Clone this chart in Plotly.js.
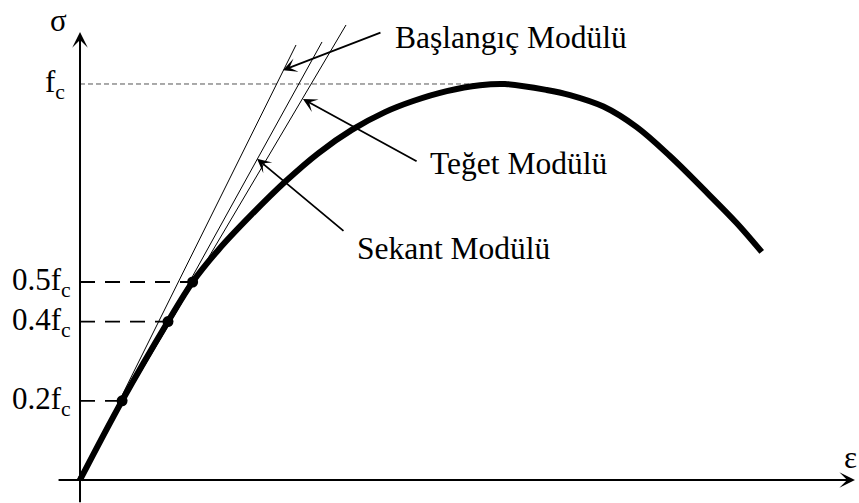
<!DOCTYPE html>
<html>
<head>
<meta charset="utf-8">
<script src="https://cdn.plot.ly/plotly-3.0.1.min.js"></script>
<style>
  html, body { margin: 0; padding: 0; background: #fff; }
  #chart { width: 859px; height: 503px; }
</style>
</head>
<body>
<div id="chart"></div>
<script>
// Stress–strain curve of concrete (strain in ‰, stress as a fraction of fc)
var curveStrain = [0, 0.198, 0.414, 0.53, 0.651, 0.808, 0.965, 1.121, 1.279, 1.435, 1.568, 1.726, 1.882, 2.0, 2.196, 2.306, 2.463, 2.620, 2.776, 2.933, 3.090, 3.208];
var curveStress = [0, 0.2, 0.4, 0.5, 0.581, 0.6705, 0.753, 0.825, 0.884, 0.929, 0.957, 0.982, 0.997, 1.0, 0.985, 0.972, 0.943, 0.891, 0.818, 0.735, 0.649, 0.576];

// Marked points on the curve at 0.2fc, 0.4fc and 0.5fc
var markStrain = [0.198, 0.414, 0.53];
var markStress = [0.2, 0.4, 0.5];
var markLabels = ['0.2f<sub>c</sub>', '0.4f<sub>c</sub>', '0.5f<sub>c</sub>'];

// Modulus lines: initial (through origin), secant (origin to 0.4fc), tangent at 0.5fc
var initialStrain = [0, 1.0165];
var initialStress = [0, 1.0985];
var secantStrain = [0, 1.1388];
var secantStress = [0, 1.1061];
var tangentStrain = [-0.0141, 1.2518];
var tangentStress = [0, 1.149];

// Peak stress level
var peakStrain = 2.0;
var peakStress = 1.0;

var serif = 'Liberation Serif, Times New Roman, serif';

var traces = [];

// thin grey dashed line at fc
traces.push({
  x: [0, peakStrain], y: [peakStress, peakStress],
  mode: 'lines', line: {color: '#555', width: 1, dash: '5px,3px'},
  hoverinfo: 'skip'
});

// black dashed guides from the stress axis to the marked points
markStrain.forEach(function (e, i) {
  traces.push({
    x: [0, e], y: [markStress[i], markStress[i]],
    mode: 'lines', line: {color: '#000', width: 1.8, dash: '15px,10px'},
    hoverinfo: 'skip'
  });
});

// modulus lines
[[initialStrain, initialStress], [secantStrain, secantStress], [tangentStrain, tangentStress]].forEach(function (p) {
  traces.push({
    x: p[0], y: p[1], mode: 'lines',
    line: {color: '#000', width: 1}, hoverinfo: 'skip'
  });
});

// the stress–strain curve
traces.push({
  x: curveStrain, y: curveStress, mode: 'lines',
  line: {color: '#000', width: 6, shape: 'spline', smoothing: 1},
  hoverinfo: 'skip'
});

// marked points
traces.push({
  x: markStrain, y: markStress, mode: 'markers',
  marker: {color: '#000', size: 11}, hoverinfo: 'skip'
});

var annotations = [];

// axes drawn as arrows
annotations.push({
  x: 0, y: 1.131, ax: 0, ay: -0.06, axref: 'x', ayref: 'y',
  text: '', showarrow: true, arrowhead: 3, arrowsize: 1.3, arrowwidth: 2,
  arrowcolor: '#000', standoff: 0, startstandoff: 0
});
annotations.push({
  x: 3.647, y: 0, ax: -0.108, ay: 0, axref: 'x', ayref: 'y',
  text: '', showarrow: true, arrowhead: 3, arrowsize: 1.3, arrowwidth: 2,
  arrowcolor: '#000', standoff: 0, startstandoff: 0
});

// axis symbols
annotations.push({x: -0.101, y: 1.2095, text: 'σ', showarrow: false,
  font: {family: serif, size: 31, color: '#000'}, xanchor: 'center', yanchor: 'top'});
annotations.push({x: 3.628, y: 0.056, text: 'ε', showarrow: false,
  font: {family: serif, size: 31, color: '#000'}, xanchor: 'center', yanchor: 'middle'});

// stress level labels
annotations.push({x: -0.061, y: peakStress, text: 'f<sub>c</sub>', showarrow: false,
  font: {family: serif, size: 31, color: '#000'}, xanchor: 'right', yanchor: 'middle'});
markStress.forEach(function (s, i) {
  annotations.push({x: -0.033, y: s, text: markLabels[i], showarrow: false,
    font: {family: serif, size: 31, color: '#000'}, xanchor: 'right', yanchor: 'middle'});
});

// modulus names with pointer arrows
var names = [
  {text: 'Başlangıç Modülü', x: 1.473, y: 1.118, tip: [0.955, 1.035], tail: [1.421, 1.131]},
  {text: 'Teğet Modülü', x: 1.638, y: 0.800, tip: [1.049, 0.962], tail: [1.591, 0.803]},
  {text: 'Sekant Modülü', x: 1.294, y: 0.585, tip: [0.833, 0.811], tail: [1.247, 0.626]}
];
names.forEach(function (n) {
  annotations.push({x: n.x, y: n.y, text: n.text, showarrow: false,
    font: {family: serif, size: 31.5, color: '#000'}, xanchor: 'left', yanchor: 'middle'});
  annotations.push({
    x: n.tip[0], y: n.tip[1], ax: n.tail[0], ay: n.tail[1], axref: 'x', ayref: 'y',
    text: '', showarrow: true, arrowhead: 3, arrowsize: 1.3, arrowwidth: 1.8,
    arrowcolor: '#000', standoff: 0, startstandoff: 0
  });
});

var layout = {
  width: 859, height: 503,
  margin: {l: 0, r: 0, t: 0, b: 0},
  paper_bgcolor: '#fff', plot_bgcolor: '#fff',
  showlegend: false,
  xaxis: {range: [-0.3765, 3.6659], visible: false, fixedrange: true},
  yaxis: {range: [-0.0581, 1.2121], visible: false, fixedrange: true},
  annotations: annotations
};

Plotly.newPlot('chart', traces, layout, {staticPlot: true});
</script>
</body>
</html>
